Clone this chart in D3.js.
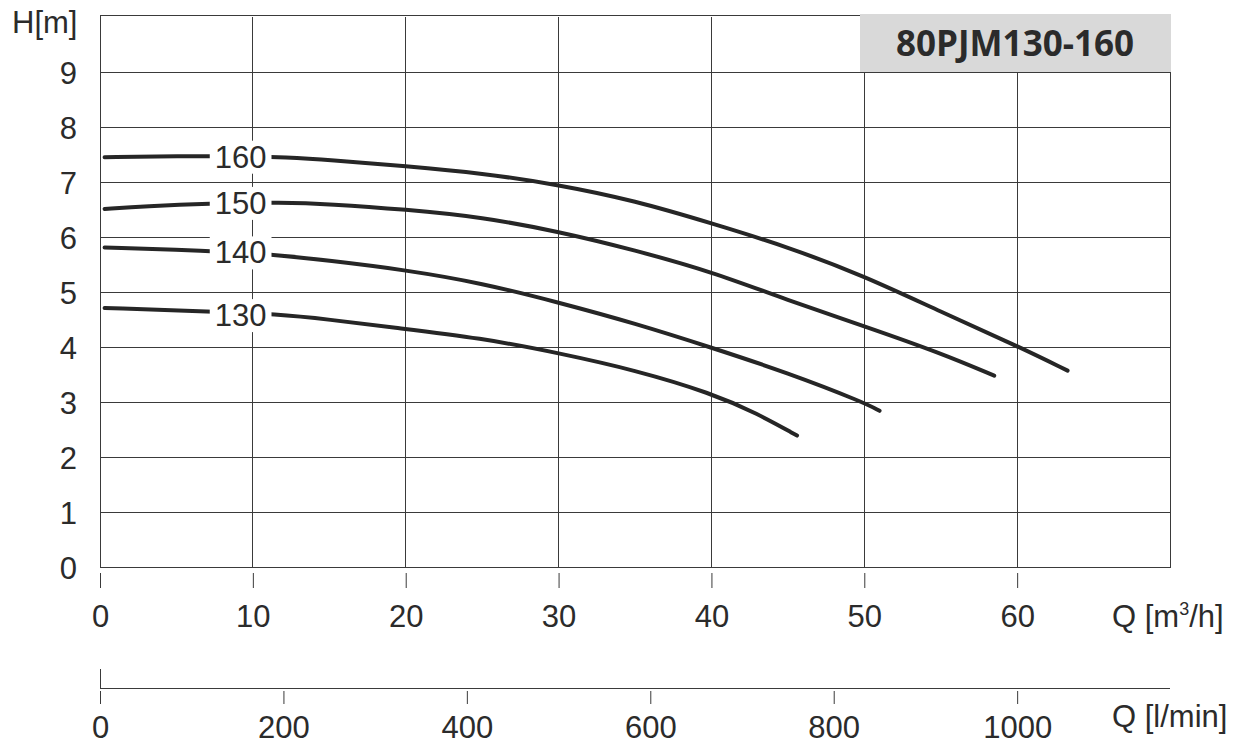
<!DOCTYPE html>
<html><head><meta charset="utf-8">
<script src="https://cdn.jsdelivr.net/npm/d3@7/dist/d3.min.js"></script>
<style>body{margin:0;background:#fff}svg{display:block}text{font-family:"Liberation Sans",Arial,sans-serif;fill:#2b2b2b}</style>
</head><body><svg id="c" width="1242" height="744"></svg>
<script>
const title = "80PJM130-160";
const curveNames = ["160", "150", "140", "130"];
const q160 = [0.3, 5, 10, 12, 15, 20, 25, 30, 35, 40, 45, 50, 55, 60, 63.3];
const h160 = [7.45, 7.47, 7.47, 7.45, 7.4, 7.29, 7.16, 6.95, 6.66, 6.25, 5.82, 5.29, 4.64, 4.02, 3.57];
const q150 = [0.3, 3, 7, 12, 15, 20, 25, 30, 35, 40, 45, 50, 55, 58.5];
const h150 = [6.51, 6.56, 6.61, 6.63, 6.6, 6.5, 6.36, 6.1, 5.76, 5.37, 4.85, 4.38, 3.89, 3.48];
const q140 = [0.3, 7, 11, 15, 20, 25, 30, 35, 40, 45, 50, 51];
const h140 = [5.81, 5.75, 5.69, 5.57, 5.4, 5.16, 4.81, 4.43, 3.99, 3.53, 2.99, 2.84];
const q130 = [0.3, 7.5, 11.5, 15, 19, 25, 30, 35, 40, 43, 45.6];
const h130 = [4.71, 4.64, 4.6, 4.5, 4.36, 4.16, 3.89, 3.58, 3.16, 2.79, 2.39];
const labelQ = [9.2, 9.2, 9.2, 9.2];
const labelH = [7.46, 6.62, 5.72, 4.58];
const qTicks = [0, 10, 20, 30, 40, 50, 60];
const hTicks = [0, 1, 2, 3, 4, 5, 6, 7, 8, 9];
const lminTicks = [0, 200, 400, 600, 800, 1000];
const hLabel = "H[m]";
const qLabel1 = "Q [m", qSup = "3", qLabel1b = "/h]";
const qLabel2 = "Q [l/min]";

const series = [[q160,h160],[q150,h150],[q140,h140],[q130,h130]].map(([q,h],i)=>({name:curveNames[i], pts:q.map((v,j)=>[v,h[j]])}));

const svg = d3.select("#c");
const x = d3.scaleLinear().domain([0,70]).range([100,1170]);
const y = d3.scaleLinear().domain([0,10]).range([567,17]);
const xl = d3.scaleLinear().domain([0,70*1000/60]).range([100,1170]);
const gc = "#3a3a3a";

// grid
const g = svg.append("g").attr("shape-rendering","crispEdges");
g.selectAll(".vg").data(qTicks.filter(d=>d>0)).join("line")
  .attr("x1",d=>x(d)).attr("x2",d=>x(d)).attr("y1",y(0)).attr("y2",y(10))
  .attr("stroke",gc).attr("stroke-width",1);
g.selectAll(".hg").data(hTicks.filter(d=>d>0)).join("line")
  .attr("x1",x(0)).attr("x2",x(70)).attr("y1",d=>y(d)).attr("y2",d=>y(d))
  .attr("stroke",gc).attr("stroke-width",1);
// frame
g.append("rect").attr("x",x(0)).attr("y",y(10)-2).attr("width",x(70)-x(0)).attr("height",y(0)-y(10)+2)
  .attr("fill","none").attr("stroke",gc).attr("stroke-width",1);

// title box
svg.append("rect").attr("x",860).attr("y",14).attr("width",x(70)-860+1).attr("height",58).attr("fill","#d9d9d9");
svg.append("text").attr("x",1015).attr("y",56).attr("text-anchor","middle")
  .style("font-family","'Open Sans',sans-serif").style("font-weight","700").style("font-size","35px")
  .text(title);

// curves
const line = d3.line().x(d=>x(d[0])).y(d=>y(d[1])).curve(d3.curveBasis);
svg.append("g").selectAll("path").data(series).join("path")
  .attr("d",d=>line(d.pts)).attr("fill","none").attr("stroke","#262626")
  .attr("stroke-width",4).attr("stroke-linecap","round");

// curve labels
const lg = svg.append("g");
curveNames.forEach((n,i)=>{
  const t = lg.append("text").attr("x",x(labelQ[i])).attr("y",y(labelH[i])+11)
    .attr("text-anchor","middle").style("font-size","31px").text(n);
  const b = t.node().getBBox();
  lg.insert("rect","text").attr("x",b.x-5).attr("y",b.y+1).attr("width",b.width+10).attr("height",b.height-2).attr("fill","#fff");
});

// y axis labels
const ya = svg.append("g").attr("transform",`translate(${x(0)},0)`)
  .call(d3.axisLeft(y).tickValues(hTicks).tickSize(0).tickPadding(23));
ya.select(".domain").remove();
ya.selectAll("text").style("font-size","31px").attr("font-family",null).attr("fill","#2b2b2b").attr("dy",null).attr("y",11);
svg.append("text").attr("x",12).attr("y",33).style("font-size","31px").text(hLabel);

// x axis m3/h
const xa = svg.append("g").attr("transform","translate(0,573)")
  .call(d3.axisBottom(x).tickValues(qTicks).tickSize(15).tickSizeOuter(0).tickPadding(0));
xa.select(".domain").remove();
xa.selectAll("line").attr("stroke",gc);
xa.selectAll("text").style("font-size","31px").attr("font-family",null).attr("fill","#2b2b2b").attr("dy",null).attr("y",54);
const ql = svg.append("text").attr("x",1112).attr("y",627).style("font-size","31px");
ql.append("tspan").text(qLabel1);
ql.append("tspan").attr("dy",-12).style("font-size","18px").text(qSup);
ql.append("tspan").attr("dy",12).text(qLabel1b);

// x axis l/min
svg.append("line").attr("x1",xl(0)).attr("x2",x(70)).attr("y1",688).attr("y2",688).attr("stroke",gc).attr("shape-rendering","crispEdges");
svg.append("line").attr("x1",xl(0)).attr("x2",xl(0)).attr("y1",669).attr("y2",688).attr("stroke",gc).attr("shape-rendering","crispEdges");
const xb = svg.append("g").attr("transform","translate(0,691)")
  .call(d3.axisBottom(xl).tickValues(lminTicks).tickFormat(d3.format("d")).tickSize(13).tickSizeOuter(0).tickPadding(0));
xb.select(".domain").remove();
xb.selectAll("line").attr("stroke",gc);
xb.selectAll("text").style("font-size","31px").attr("font-family",null).attr("fill","#2b2b2b").attr("dy",null).attr("y",47);
svg.append("text").attr("x",1112).attr("y",727).style("font-size","31px").text(qLabel2);
</script></body></html>
